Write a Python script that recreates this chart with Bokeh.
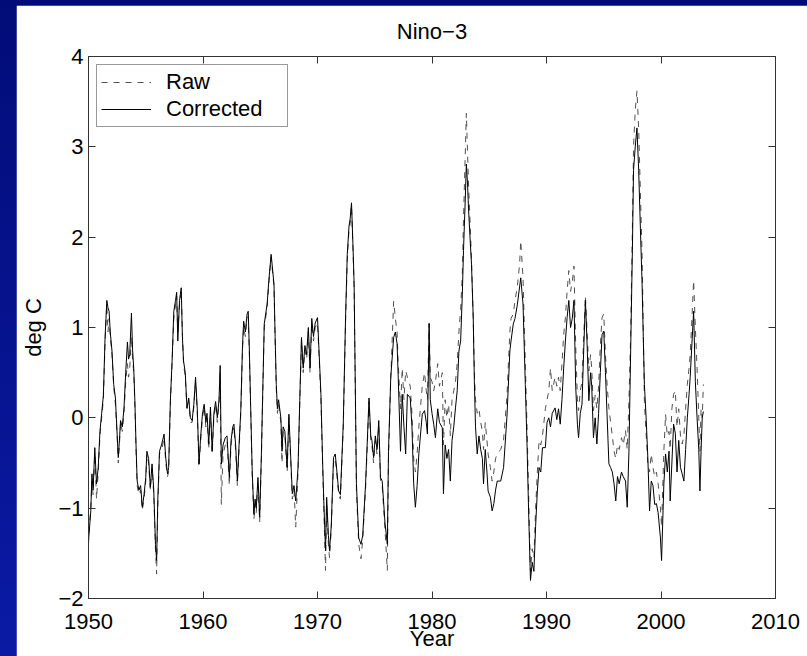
from bokeh.plotting import figure
from bokeh.models import (Range1d, LinearAxis, FixedTicker, Legend, LegendItem,
                          GlobalInlineStyleSheet, CustomLabelingPolicy)
from bokeh.embed import file_html
from bokeh.resources import INLINE

# ---------------- data ----------------
corrected_pts = [
    (1950.00,-1.36),(1950.10,-1.20),(1950.20,-1.03),(1950.30,-0.62),(1950.40,-0.80),(1950.55,-0.33),
    (1950.70,-0.73),(1950.85,-0.55),(1951.00,-0.15),(1951.15,0.05),(1951.30,0.25),(1951.45,0.90),
    (1951.60,1.30),(1951.70,1.22),(1951.80,1.18),(1951.90,0.95),(1952.05,0.74),(1952.20,0.37),
    (1952.35,0.22),(1952.50,-0.18),(1952.60,-0.44),(1952.70,-0.25),(1952.80,-0.03),(1952.95,-0.10),
    (1953.10,0.11),(1953.25,0.50),(1953.40,0.84),(1953.50,0.65),(1953.60,0.70),(1953.75,1.16),
    (1953.85,0.75),(1953.95,0.55),(1954.05,0.19),(1954.15,-0.30),(1954.25,-0.70),(1954.40,-0.80),
    (1954.55,-0.75),(1954.70,-0.99),(1954.85,-0.85),(1955.00,-0.66),(1955.10,-0.37),(1955.25,-0.45),
    (1955.40,-0.77),(1955.55,-0.51),(1955.70,-0.80),(1955.85,-1.40),(1955.95,-1.58),(1956.05,-0.92),
    (1956.20,-0.37),(1956.40,-0.29),(1956.60,-0.18),(1956.75,-0.45),(1956.90,-0.62),(1957.00,-0.55),
    (1957.15,0.19),(1957.30,0.63),(1957.45,1.18),(1957.60,1.30),(1957.70,1.39),(1957.80,0.85),
    (1957.95,1.30),(1958.10,1.44),(1958.20,0.90),(1958.30,0.63),(1958.45,0.50),(1958.60,0.11),
    (1958.75,0.22),(1958.90,0.00),(1959.05,-0.03),(1959.20,0.15),(1959.35,0.45),(1959.50,0.10),
    (1959.65,-0.51),(1959.80,-0.20),(1959.95,0.04),(1960.10,0.15),(1960.25,-0.05),(1960.35,0.05),
    (1960.50,-0.29),(1960.65,0.12),(1960.80,-0.37),(1960.95,0.05),(1961.10,0.18),(1961.25,0.00),
    (1961.40,0.20),(1961.50,0.58),(1961.60,-0.51),(1961.75,-0.30),(1961.95,-0.22),(1962.10,-0.20),
    (1962.30,-0.66),(1962.45,-0.25),(1962.60,-0.10),(1962.70,-0.07),(1962.85,-0.30),(1963.00,-0.70),
    (1963.15,-0.30),(1963.30,0.08),(1963.45,0.80),(1963.55,1.07),(1963.70,0.95),(1963.85,1.15),
    (1963.95,1.18),(1964.05,0.75),(1964.15,0.19),(1964.30,-0.60),(1964.45,-1.07),(1964.55,-0.90),
    (1964.65,-1.00),(1964.80,-0.66),(1964.95,-1.10),(1965.10,-0.40),(1965.20,0.19),(1965.35,1.04),
    (1965.60,1.26),(1965.75,1.52),(1965.95,1.81),(1966.20,1.48),(1966.30,0.90),(1966.40,0.37),
    (1966.50,0.10),(1966.60,0.20),(1966.80,0.00),(1966.90,-0.37),(1967.00,-0.10),(1967.15,-0.15),
    (1967.35,-0.55),(1967.50,0.04),(1967.65,-0.40),(1967.80,-0.84),(1967.95,-0.75),(1968.10,-0.92),
    (1968.30,-0.55),(1968.45,0.19),(1968.60,0.89),(1968.75,0.55),(1968.90,0.80),(1969.05,0.70),
    (1969.20,1.00),(1969.35,0.55),(1969.50,1.10),(1969.65,0.90),(1969.80,1.05),(1970.00,1.11),
    (1970.15,0.70),(1970.30,0.26),(1970.45,-0.50),(1970.55,-0.92),(1970.70,-1.47),(1970.80,-0.88),
    (1970.95,-1.30),(1971.05,-1.47),(1971.20,-1.20),(1971.40,-0.44),(1971.55,-0.40),(1971.70,-0.60),
    (1971.85,-0.81),(1972.00,-0.85),(1972.25,-0.07),(1972.45,1.11),(1972.60,1.81),(1972.75,2.12),
    (1972.85,2.20),(1972.97,2.38),(1973.10,1.90),(1973.20,1.48),(1973.40,-0.73),(1973.60,-1.33),
    (1973.80,-1.40),(1973.95,-1.30),(1974.20,-0.73),(1974.50,0.22),(1974.65,-0.20),(1974.75,-0.25),
    (1974.90,-0.44),(1975.05,-0.20),(1975.20,-0.35),(1975.35,-0.03),(1975.50,-0.66),(1975.65,-0.70),
    (1975.90,-1.17),(1976.10,-1.40),(1976.20,-0.37),(1976.40,0.45),(1976.65,0.89),(1976.80,0.95),
    (1976.95,0.82),(1977.05,0.45),(1977.25,-0.37),(1977.40,0.26),(1977.55,-0.10),(1977.70,-0.40),
    (1977.85,0.26),(1978.10,0.22),(1978.25,-0.10),(1978.40,-0.73),(1978.55,-0.99),(1978.70,-0.75),
    (1978.85,-0.40),(1979.15,0.04),(1979.35,0.08),(1979.50,-0.05),(1979.60,-0.18),(1979.75,1.04),
    (1979.85,0.20),(1980.00,0.05),(1980.15,-0.07),(1980.30,-0.22),(1980.50,0.10),(1980.65,-0.05),
    (1980.90,-0.11),(1981.00,-0.84),(1981.15,-0.30),(1981.30,-0.45),(1981.45,-0.35),(1981.60,-0.70),
    (1981.75,-0.25),(1981.90,-0.10),(1982.05,0.11),(1982.20,0.30),(1982.35,0.74),(1982.50,0.85),
    (1982.65,1.37),(1982.75,1.85),(1982.90,2.40),(1983.00,2.81),(1983.10,2.60),(1983.20,2.29),
    (1983.35,1.93),(1983.45,1.70),(1983.60,1.11),(1983.70,0.40),(1983.80,-0.10),(1983.95,-0.40),
    (1984.10,-0.20),(1984.25,-0.35),(1984.40,-0.45),(1984.50,-0.73),(1984.65,-0.35),(1984.80,-0.60),
    (1984.90,-0.81),(1985.10,-0.88),(1985.25,-1.03),(1985.40,-0.95),(1985.55,-0.80),(1985.70,-0.70),
    (1986.00,-0.70),(1986.25,-0.55),(1986.55,0.02),(1986.80,0.74),(1986.90,0.85),(1987.10,1.04),
    (1987.25,1.10),(1987.45,1.25),(1987.65,1.45),(1987.75,1.55),(1987.95,1.26),(1988.15,0.37),
    (1988.30,-0.30),(1988.45,-1.10),(1988.60,-1.80),(1988.75,-1.60),(1988.90,-1.70),(1989.05,-1.20),
    (1989.20,-0.81),(1989.35,-0.55),(1989.50,-0.60),(1989.65,-0.33),(1989.90,-0.33),(1990.05,-0.05),
    (1990.20,0.00),(1990.35,-0.10),(1990.50,0.05),(1990.75,0.11),(1990.90,-0.02),(1991.05,0.10),
    (1991.20,-0.07),(1991.35,0.20),(1991.50,0.55),(1991.65,0.85),(1991.80,1.11),(1991.95,1.30),
    (1992.10,1.00),(1992.25,1.10),(1992.40,1.30),(1992.55,0.35),(1992.70,-0.07),(1992.80,-0.22),
    (1992.95,0.05),(1993.10,0.15),(1993.25,0.75),(1993.40,1.30),(1993.55,0.80),(1993.70,0.19),
    (1993.85,0.50),(1993.95,0.35),(1994.10,-0.22),(1994.25,0.00),(1994.40,-0.29),(1994.55,0.05),
    (1994.70,0.50),(1994.85,0.92),(1995.00,0.96),(1995.15,0.50),(1995.30,0.00),(1995.45,-0.51),
    (1995.60,-0.55),(1995.75,-0.60),(1995.90,-0.73),(1996.05,-0.92),(1996.20,-0.65),(1996.35,-0.73),
    (1996.55,-0.60),(1996.70,-0.65),(1996.90,-0.70),(1997.05,-0.99),(1997.20,-0.37),(1997.35,0.74),
    (1997.50,1.85),(1997.60,2.74),(1997.75,3.00),(1997.90,3.21),(1998.05,2.74),(1998.20,2.10),
    (1998.35,1.48),(1998.45,0.90),(1998.55,0.37),(1998.70,0.00),(1998.85,-0.44),(1999.00,-1.03),
    (1999.15,-0.70),(1999.30,-0.75),(1999.45,-0.96),(1999.60,-0.95),(1999.75,-1.05),(1999.95,-1.33),
    (2000.05,-1.58),(2000.25,-0.73),(2000.40,-0.40),(2000.55,-0.60),(2000.70,-0.37),(2000.80,-0.92),
    (2000.95,-0.50),(2001.10,-0.07),(2001.25,-0.17),(2001.40,-0.60),(2001.55,-0.25),(2001.70,-0.55),
    (2001.85,-0.62),(2002.00,-0.70),(2002.15,-0.35),(2002.30,0.00),(2002.45,0.26),(2002.55,0.45),
    (2002.70,0.82),(2002.85,1.18),(2003.00,0.40),(2003.15,0.00),(2003.30,-0.35),(2003.40,-0.81),
    (2003.50,-0.37),(2003.60,0.00),(2003.70,0.07),
]

raw_pts = [
    (1950.00,-1.40),(1950.10,-1.15),(1950.20,-1.00),(1950.30,-0.70),(1950.40,-0.85),(1950.55,-0.40),
    (1950.70,-0.90),(1950.85,-0.60),(1951.00,-0.20),(1951.15,0.00),(1951.30,0.20),(1951.45,0.85),
    (1951.60,1.25),(1951.70,0.95),(1951.80,1.10),(1951.90,0.90),(1952.05,0.70),(1952.20,0.35),
    (1952.35,0.15),(1952.50,-0.20),(1952.60,-0.50),(1952.70,-0.30),(1952.80,-0.05),(1952.95,-0.15),
    (1953.10,0.05),(1953.25,0.40),(1953.40,0.60),(1953.50,0.45),(1953.60,0.55),(1953.75,0.90),
    (1953.85,0.65),(1953.95,0.50),(1954.05,0.15),(1954.15,-0.35),(1954.25,-0.75),(1954.40,-0.85),
    (1954.55,-0.80),(1954.70,-1.02),(1954.85,-0.90),(1955.00,-0.70),(1955.10,-0.40),(1955.25,-0.50),
    (1955.40,-0.80),(1955.55,-0.55),(1955.70,-0.85),(1955.85,-1.45),(1955.95,-1.73),(1956.05,-1.00),
    (1956.20,-0.40),(1956.40,-0.35),(1956.60,-0.22),(1956.75,-0.50),(1956.90,-0.65),(1957.00,-0.60),
    (1957.15,0.15),(1957.30,0.60),(1957.45,1.10),(1957.60,1.25),(1957.70,1.35),(1957.80,0.95),
    (1957.95,1.25),(1958.10,1.40),(1958.20,0.95),(1958.30,0.60),(1958.45,0.45),(1958.60,0.10),
    (1958.75,0.20),(1958.90,-0.05),(1959.05,-0.05),(1959.20,0.12),(1959.35,0.40),(1959.50,0.05),
    (1959.65,-0.55),(1959.80,-0.25),(1959.95,0.00),(1960.10,0.12),(1960.25,-0.10),(1960.35,0.00),
    (1960.50,-0.35),(1960.65,0.08),(1960.80,-0.40),(1960.95,0.00),(1961.10,0.15),(1961.25,-0.05),
    (1961.40,0.15),(1961.50,0.50),(1961.60,-0.96),(1961.75,-0.40),(1961.95,-0.30),(1962.10,-0.25),
    (1962.30,-0.75),(1962.45,-0.30),(1962.60,-0.15),(1962.70,-0.10),(1962.85,-0.35),(1963.00,-0.75),
    (1963.15,-0.35),(1963.30,0.05),(1963.45,0.75),(1963.55,1.00),(1963.70,0.90),(1963.85,1.10),
    (1963.95,1.12),(1964.05,0.70),(1964.15,0.15),(1964.30,-0.65),(1964.45,-1.12),(1964.55,-0.95),
    (1964.65,-1.05),(1964.80,-0.70),(1964.95,-1.15),(1965.10,-0.45),(1965.20,0.15),(1965.35,1.00),
    (1965.60,1.22),(1965.75,1.48),(1965.95,1.78),(1966.20,1.45),(1966.30,0.85),(1966.40,0.32),
    (1966.50,0.05),(1966.60,0.15),(1966.80,-0.05),(1966.90,-0.50),(1967.00,-0.15),(1967.15,-0.20),
    (1967.35,-0.60),(1967.50,0.00),(1967.65,-0.45),(1967.80,-0.90),(1967.95,-0.80),(1968.10,-1.21),
    (1968.30,-0.60),(1968.45,0.15),(1968.60,0.85),(1968.75,0.50),(1968.90,0.75),(1969.05,0.65),
    (1969.20,0.95),(1969.35,0.50),(1969.50,1.05),(1969.65,0.85),(1969.80,1.00),(1970.00,1.05),
    (1970.15,0.65),(1970.30,0.20),(1970.45,-0.55),(1970.55,-1.00),(1970.70,-1.69),(1970.80,-0.95),
    (1970.95,-1.40),(1971.05,-1.55),(1971.20,-1.25),(1971.40,-0.50),(1971.55,-0.45),(1971.70,-0.65),
    (1971.85,-0.85),(1972.00,-0.90),(1972.25,-0.12),(1972.45,1.05),(1972.60,1.75),(1972.75,2.08),
    (1972.85,2.15),(1972.97,2.35),(1973.10,1.85),(1973.20,1.42),(1973.40,-0.80),(1973.60,-1.40),
    (1973.80,-1.56),(1973.95,-1.35),(1974.20,-0.78),(1974.50,0.18),(1974.65,-0.25),(1974.75,-0.30),
    (1974.90,-0.50),(1975.05,-0.25),(1975.20,-0.40),(1975.35,-0.08),(1975.50,-0.70),(1975.65,-0.75),
    (1975.90,-1.25),(1976.10,-1.69),(1976.20,-0.45),(1976.40,0.45),(1976.65,1.29),(1976.80,1.10),
    (1976.95,0.95),(1977.05,0.60),(1977.25,0.10),(1977.40,0.55),(1977.55,0.20),(1977.70,0.52),
    (1977.85,0.45),(1978.10,0.35),(1978.25,0.05),(1978.40,-0.45),(1978.55,-0.60),(1978.70,-0.40),
    (1978.85,-0.10),(1979.15,0.35),(1979.35,0.50),(1979.50,0.30),(1979.60,0.20),(1979.75,1.05),
    (1979.85,0.45),(1980.00,0.40),(1980.15,0.30),(1980.30,0.40),(1980.50,0.60),(1980.65,0.35),
    (1980.90,0.50),(1981.00,-0.30),(1981.15,0.20),(1981.30,0.00),(1981.45,0.15),(1981.60,-0.20),
    (1981.75,0.20),(1981.90,0.30),(1982.05,0.40),(1982.20,0.60),(1982.35,0.95),(1982.50,1.20),
    (1982.65,1.60),(1982.75,2.20),(1982.90,2.90),(1983.00,3.37),(1983.10,2.95),(1983.20,2.55),
    (1983.35,2.10),(1983.45,1.75),(1983.60,1.10),(1983.70,0.50),(1983.80,0.20),(1983.95,0.05),
    (1984.10,0.10),(1984.25,-0.05),(1984.40,-0.15),(1984.50,-0.35),(1984.65,-0.05),(1984.80,-0.25),
    (1984.90,-0.40),(1985.10,-0.55),(1985.25,-0.70),(1985.40,-0.60),(1985.55,-0.45),(1985.70,-0.40),
    (1986.00,-0.35),(1986.25,-0.25),(1986.55,0.25),(1986.80,0.95),(1986.90,1.10),(1987.10,1.15),
    (1987.25,1.30),(1987.45,1.45),(1987.65,1.70),(1987.75,1.96),(1987.95,1.55),(1988.15,0.60),
    (1988.30,-0.10),(1988.45,-0.90),(1988.60,-1.70),(1988.75,-1.45),(1988.90,-1.55),(1989.05,-1.00),
    (1989.20,-0.60),(1989.35,-0.25),(1989.50,-0.30),(1989.65,-0.20),(1989.90,0.10),(1990.05,0.20),
    (1990.20,0.30),(1990.35,0.55),(1990.50,0.30),(1990.75,0.45),(1990.90,0.35),(1991.05,0.45),
    (1991.20,0.30),(1991.35,0.60),(1991.50,0.92),(1991.65,1.11),(1991.80,1.40),(1991.95,1.63),
    (1992.10,1.40),(1992.25,1.50),(1992.40,1.68),(1992.55,0.80),(1992.70,0.20),(1992.80,0.08),
    (1992.95,0.30),(1993.10,0.40),(1993.25,0.90),(1993.40,1.35),(1993.55,0.95),(1993.70,0.52),
    (1993.85,0.70),(1993.95,0.55),(1994.10,0.08),(1994.25,0.25),(1994.40,0.10),(1994.55,0.35),
    (1994.70,0.80),(1994.85,1.11),(1995.00,1.15),(1995.15,0.70),(1995.30,0.35),(1995.45,0.11),
    (1995.60,-0.05),(1995.75,-0.20),(1995.90,-0.37),(1996.05,-0.45),(1996.20,-0.30),(1996.35,-0.35),
    (1996.55,-0.22),(1996.70,-0.30),(1996.90,-0.14),(1997.05,-0.35),(1997.20,0.19),(1997.35,0.92),
    (1997.50,2.10),(1997.60,3.00),(1997.75,3.40),(1997.90,3.62),(1998.05,3.20),(1998.20,2.50),
    (1998.35,1.80),(1998.45,1.00),(1998.55,0.18),(1998.70,-0.18),(1998.85,-0.51),(1999.00,-0.60),
    (1999.15,-0.40),(1999.30,-0.55),(1999.45,-0.65),(1999.60,-0.60),(1999.75,-0.73),(1999.95,-1.00),
    (2000.05,-1.20),(2000.25,-0.37),(2000.40,0.04),(2000.55,-0.20),(2000.70,-0.15),(2000.80,-0.35),
    (2000.95,0.10),(2001.10,0.26),(2001.25,0.30),(2001.40,-0.10),(2001.55,0.10),(2001.70,-0.20),
    (2001.85,-0.29),(2002.00,-0.20),(2002.15,0.10),(2002.30,0.37),(2002.45,0.55),(2002.55,0.70),
    (2002.70,1.10),(2002.85,1.52),(2003.00,1.00),(2003.15,0.55),(2003.30,0.00),(2003.40,-0.37),
    (2003.50,0.10),(2003.60,0.00),(2003.70,0.37),
]

x_ticks = [1950, 1960, 1970, 1980, 1990, 2000, 2010]
y_ticks = [-2, -1, 0, 1, 2, 3, 4]
y_tick_labels = {-2: "\u22122", -1: "\u22121"}
title_text = "Nino\u22123"
x_label = "Year"
y_label = "deg C"
series_names = ["Raw", "Corrected"]

# ---------------- styling ----------------
FONT = "Liberation Sans"
FS = "22px"
AXC = "#333333"

page_css = GlobalInlineStyleSheet(css="""
html { background: linear-gradient(to bottom, #020c78 0%, #0a1aa4 100%); height: 100%; }
body { margin: 5px 0 0 16px; padding: 0; overflow: hidden; background: transparent; }
""")

p = figure(width=791, height=651, output_backend="svg", toolbar_location=None,
           x_range=Range1d(1950, 2010), y_range=Range1d(-2, 4),
           min_border_left=72, min_border_right=32, min_border_top=51, min_border_bottom=58,
           title=title_text)
p.stylesheets = [page_css]
p.border_fill_color = "white"
p.background_fill_color = "white"
p.outline_line_color = AXC
p.grid.visible = False

p.title.text_font = FONT
p.title.text_font_size = FS
p.title.text_font_style = "normal"
p.title.align = "center"
p.title.text_color = "black"
p.title.standoff = 18

hide_labels = CustomLabelingPolicy(code="""
for (const i of Array.from(indices)) { indices.unset(i) }
return indices
""")

def style_axis(ax, show_labels):
    ax.axis_line_color = AXC
    ax.major_tick_line_color = AXC
    ax.major_tick_in = 7
    ax.major_tick_out = 0
    ax.minor_tick_line_color = None
    ax.major_label_text_font = FONT
    ax.major_label_text_font_size = FS if show_labels else "1px"
    ax.major_label_text_color = "black"
    ax.axis_label_text_font = FONT
    ax.axis_label_text_font_size = FS
    ax.axis_label_text_font_style = "normal"
    ax.axis_label_text_color = "black"
    if not show_labels:
        ax.major_label_policy = hide_labels

xax = p.xaxis[0]
yax = p.yaxis[0]
xax.ticker = FixedTicker(ticks=x_ticks)
yax.ticker = FixedTicker(ticks=y_ticks)
style_axis(xax, True)
style_axis(yax, True)
yax.major_label_overrides = y_tick_labels
xax.axis_label = x_label
yax.axis_label = y_label
xax.major_label_standoff = 15
xax.axis_label_standoff = -6
yax.major_label_standoff = 5
yax.axis_label_standoff = 9

top_ax = LinearAxis(ticker=FixedTicker(ticks=x_ticks), major_label_standoff=0)
style_axis(top_ax, False)
p.add_layout(top_ax, "above")
right_ax = LinearAxis(ticker=FixedTicker(ticks=y_ticks), major_label_standoff=0)
style_axis(right_ax, False)
p.add_layout(right_ax, "right")

rx = [t for t, v in raw_pts]
ry = [v for t, v in raw_pts]
cx = [t for t, v in corrected_pts]
cy = [v for t, v in corrected_pts]

r_raw = p.line(rx, ry, line_color="#505050", line_width=1, line_dash="6 6")
r_cor = p.line(cx, cy, line_color="black", line_width=1)

legend = Legend(items=[LegendItem(label=series_names[0], renderers=[r_raw]),
                       LegendItem(label=series_names[1], renderers=[r_cor])],
                location="top_left", margin=8, padding=4, spacing=1,
                glyph_width=50, glyph_height=26, label_height=26, label_width=117,
                label_standoff=15, label_text_font=FONT, label_text_font_size=FS,
                label_text_color="black", border_line_color=AXC, border_line_width=1,
                background_fill_color="white", background_fill_alpha=1.0)
p.add_layout(legend)

open("out.html", "w").write(file_html(p, INLINE))
